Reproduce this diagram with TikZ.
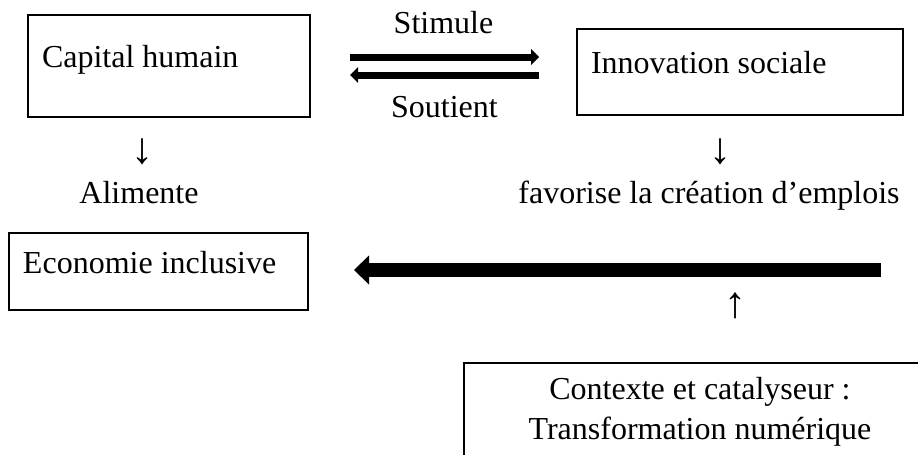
\documentclass[tikz,border=0pt]{standalone}
\usepackage{fontspec}
\setmainfont{Liberation Serif}
\usetikzlibrary{arrows.meta}

\tikzset{
  txt/.style={font=\fontsize{16}{20}\selectfont, inner sep=0pt},
  sym/.style={font=\fontsize{22}{26}\selectfont, inner sep=0pt},
  box/.style={draw, line width=1pt, txt, inner xsep=7pt, align=flush left, text height=11pt, text depth=9pt},
  flow/.style={line width=3.5pt, -{Triangle[length=4pt,width=8pt,line width=0pt]}},
  bigflow/.style={line width=7pt, -{Triangle[length=7.5pt,width=14.5pt,line width=0pt]}},
}

\begin{document}
\begin{tikzpicture}[x=0.5pt, y=-0.5pt]
  \useasboundingbox (0,0) rectangle (918,455);
  \node[box, minimum width=141pt, minimum height=51pt, text width=127pt] (cap) at (169,66) {Capital humain};
  \node[box, minimum width=163pt, minimum height=43pt, text width=149pt] (inno) at (740,72) {Innovation sociale};
  \node[box, minimum width=149.5pt, minimum height=38.5pt, text width=135.5pt] (eco) at (158.5,271.5) {Economie inclusive};
  \node[draw, line width=1pt, txt, align=center, minimum width=236pt, minimum height=48.5pt] (ctx) at (700,411.5)
    {Contexte et catalyseur :\\Transformation numérique};

  \node[txt, anchor=base] (stim) at (443.5,33) {Stimule};
  \node[txt, anchor=base] (sout) at (444.5,118) {Soutient};
  \node[sym] (down1) at (143,152) {↓};
  \node[txt, anchor=base] (alim) at (139,204) {Alimente};
  \node[sym] (down2) at (720,152) {↓};
  \node[txt, anchor=base] (fav) at (709,204) {favorise la création d’emplois};
  \node[sym] (up) at (735,306) {↑};

  \coordinate (upper) at (0,57);
  \coordinate (lower) at (0,75);
  \coordinate (tail) at (881,270);

  \draw[flow, shorten <=19.5pt, shorten >=18.5pt] (cap.east |- upper) -- (inno.west |- upper);
  \draw[flow, shorten <=18.5pt, shorten >=19.5pt] (inno.west |- lower) -- (cap.east |- lower);
  \draw[bigflow, shorten >=22.5pt] (tail) -- (eco.east |- tail);
\end{tikzpicture}
\end{document}
